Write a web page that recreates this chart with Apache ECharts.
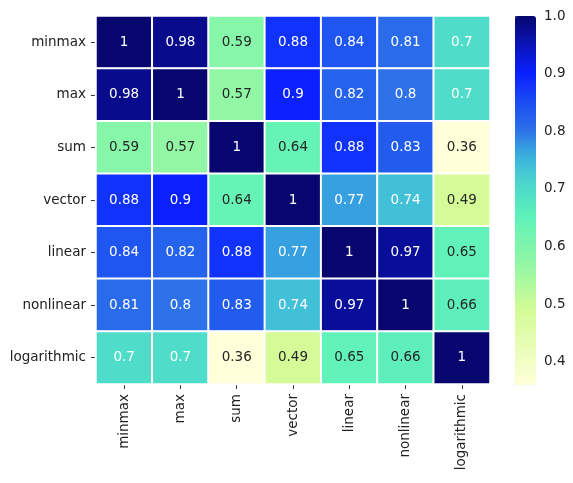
<!DOCTYPE html>
<html>
<head>
<meta charset="utf-8">
<script src="https://cdn.jsdelivr.net/npm/echarts@6/dist/echarts.min.js"></script>
<style>
  html, body { margin: 0; padding: 0; background: #fff; }
  #main { width: 573px; height: 483px; }
</style>
</head>
<body>
<div id="main"></div>
<script>
// metric names, same order on both axes
var names = ['minmax', 'max', 'sum', 'vector', 'linear', 'nonlinear', 'logarithmic'];

// correlation rows, one per name
var rowMinmax = [1, 0.98, 0.59, 0.88, 0.84, 0.81, 0.7];
var rowMax = [0.98, 1, 0.57, 0.9, 0.82, 0.8, 0.7];
var rowSum = [0.59, 0.57, 1, 0.64, 0.88, 0.83, 0.36];
var rowVector = [0.88, 0.9, 0.64, 1, 0.77, 0.74, 0.49];
var rowLinear = [0.84, 0.82, 0.88, 0.77, 1, 0.97, 0.65];
var rowNonlinear = [0.81, 0.8, 0.83, 0.74, 0.97, 1, 0.66];
var rowLog = [0.7, 0.7, 0.36, 0.49, 0.65, 0.66, 1];
var rows = [rowMinmax, rowMax, rowSum, rowVector, rowLinear, rowNonlinear, rowLog];

var colorTicks = [0.4, 0.5, 0.6, 0.7, 0.8, 0.9, 1.0];
var vMin = 0.36, vMax = 1.0;

// colour map stops [value, colour]
var cmapStops = [
  [0.36, '#ffffd9'],
  [0.49, '#d4fb97'],
  [0.57, '#92f7a4'],
  [0.65, '#60f2b8'],
  [0.70, '#4fdcc8'],
  [0.74, '#41c0d8'],
  [0.77, '#36a0e0'],
  [0.80, '#2d72e8'],
  [0.84, '#1f55f0'],
  [0.90, '#0a20ff'],
  [0.95, '#0a14b8'],
  [1.00, '#06066e']
];

function hex2rgb(h) {
  return [parseInt(h.substr(1, 2), 16), parseInt(h.substr(3, 2), 16), parseInt(h.substr(5, 2), 16)];
}
function cmapAt(v) {
  for (var i = 1; i < cmapStops.length; i++) {
    if (v <= cmapStops[i][0] || i === cmapStops.length - 1) {
      var a = cmapStops[i - 1], b = cmapStops[i];
      var t = Math.max(0, Math.min(1, (v - a[0]) / (b[0] - a[0])));
      var ca = hex2rgb(a[1]), cb = hex2rgb(b[1]);
      var c = ca.map(function (x, k) { return Math.round(x + (cb[k] - x) * t); });
      return 'rgb(' + c.join(',') + ')';
    }
  }
}
// evenly spaced colours for the visualMap
var rampColors = [];
for (var i = 0; i <= 128; i++) rampColors.push(cmapAt(vMin + (vMax - vMin) * i / 128));

var cells = [];
rows.forEach(function (row, r) {
  row.forEach(function (v, c) {
    cells.push({
      value: [c, r, v],
      label: { color: v >= 0.7 ? '#ffffff' : '#262626' }
    });
  });
});

var font = 'DejaVu Sans';
var chart = echarts.init(document.getElementById('main'));
chart.setOption({
  backgroundColor: '#fff',
  animation: false,
  grid: [
    { left: 96, right: 83, top: 16, bottom: 99 },
    { left: 515, width: 21, top: 16, bottom: 98 }
  ],
  xAxis: [
    {
      type: 'category', data: names, gridIndex: 0,
      axisLine: { show: false },
      axisTick: { show: true, length: 5, alignWithLabel: true, lineStyle: { color: '#333' } },
      axisLabel: { rotate: 90, fontSize: 13.5, color: '#222', fontFamily: font, margin: 10, interval: 0 },
      splitLine: { show: false }
    },
    { type: 'value', gridIndex: 1, show: false, min: 0, max: 1 }
  ],
  yAxis: [
    {
      type: 'category', data: names, gridIndex: 0, inverse: true,
      axisLine: { show: false },
      axisTick: { show: true, length: 5, alignWithLabel: true, lineStyle: { color: '#333' } },
      axisLabel: { fontSize: 13.5, color: '#222', fontFamily: font, margin: 10, interval: 0 },
      splitLine: { show: false }
    },
    {
      type: 'value', gridIndex: 1, position: 'right', min: vMin, max: vMax,
      axisLine: { show: false },
      axisTick: { show: true, length: 5, lineStyle: { color: '#333' }, customValues: colorTicks },
      axisLabel: {
        fontSize: 13.5, color: '#222', fontFamily: font, margin: 8,
        customValues: colorTicks,
        formatter: function (v) { return v.toFixed(1); }
      },
      splitLine: { show: false }
    }
  ],
  visualMap: {
    type: 'continuous',
    min: vMin, max: vMax,
    seriesIndex: 0,
    calculable: false,
    orient: 'vertical',
    left: 515, top: 16,
    itemWidth: 21, itemHeight: 369,
    padding: 0,
    text: null,
    showLabel: false,
    inRange: { color: rampColors }
  },
  series: [{
    type: 'heatmap',
    xAxisIndex: 0, yAxisIndex: 0,
    data: cells,
    label: {
      show: true, fontSize: 13.5, fontFamily: font,
      formatter: function (p) { return String(p.value[2]); }
    },
    itemStyle: { borderColor: '#ffffff', borderWidth: 2 },
    emphasis: { disabled: true }
  }]
});
</script>
</body>
</html>
